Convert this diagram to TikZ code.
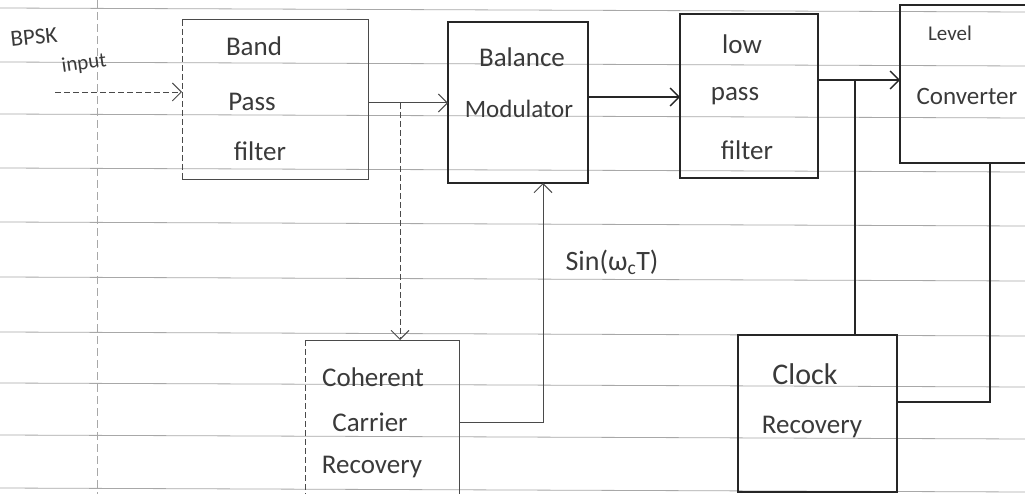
\documentclass[tikz,border=0pt]{standalone}
\usepackage{fontspec}
\setmainfont{Carlito}
\usetikzlibrary{arrows.meta}
\definecolor{ink}{HTML}{262626}
\definecolor{softink}{HTML}{4A4A4A}
\definecolor{ruling}{HTML}{A8A8A8}
\definecolor{txtcol}{HTML}{3A3A3A}
\begin{document}
\begin{tikzpicture}[x=1pt,y=-1pt,
  blk/.style={anchor=north west, inner sep=0pt, outer sep=0pt},
  pen/.style={draw=ink, line width=1.4pt},
  lightpen/.style={draw=softink, line width=1pt},
  faint/.style={draw=softink, line width=0.9pt, dash pattern=on 6pt off 3pt},
  arr/.style={-{Straight Barb[length=9pt,width=18pt]}},
  txt/.style={text=txtcol, font=\fontsize{27}{30}\selectfont, inner sep=1pt},
  rulingline/.style={draw=ruling, line width=0.8pt}]
\useasboundingbox (0,0) rectangle (1025,494);
\clip (0,0) rectangle (1025,494);
% notebook ruling
\foreach \yy in {8,62,114,168,222,277,332,383,435,488}
  \draw[rulingline] (0,\yy) -- (1025,\yy+4);
\draw[rulingline, dash pattern=on 8pt off 4pt] (97,0) -- (97,494);

% boxes
\node[blk, minimum width=186pt, minimum height=160pt] (bpf) at (182,20) {};
\node[blk, minimum width=140pt, minimum height=161pt] (mod) at (448,22) {};
\node[blk, minimum width=138pt, minimum height=164pt] (lpf) at (680,14) {};
\node[blk, minimum width=140pt, minimum height=158pt] (lvl) at (900,5) {};
\node[blk, minimum width=154pt, minimum height=170pt] (ccr) at (305,340) {};
\node[blk, minimum width=159pt, minimum height=157pt] (clk) at (738,335) {};

\draw[faint] (bpf.north west) -- (bpf.south west);
\draw[lightpen] (bpf.north west) -- (bpf.north east) -- (bpf.south east) -- (bpf.south west);
\draw[pen] (mod.north west) rectangle (mod.south east);
\draw[pen] (lpf.north west) rectangle (lpf.south east);
\draw[pen] (lpf.north east) -- ++(0,10);
\draw[pen] (lvl.north east) -- (lvl.north west) -- (lvl.south west) -- (lvl.south east);
\draw[faint] (ccr.north west) -- (ccr.south west);
\draw[lightpen] (ccr.north west) -- (ccr.north east);
\draw[lightpen] (ccr.north east) -- (ccr.south east);
\draw[pen] (clk.north west) rectangle (clk.south east);

% texts
\node[txt, rotate=6, font=\fontsize{23}{26}\selectfont] (tbpsk) at (34,37) {BPSK};
\node[txt, rotate=8, font=\fontsize{21}{26}\selectfont] (tinput) at (84,64) {input};
\node[txt] (tband) at (254,46) {Band};
\node[txt] (tpass) at (252,102) {Pass};
\node[txt] (tfilt) at (260,151) {filter};
\node[txt] (tbal) at (522,57) {Balance};
\node[txt, font=\fontsize{25}{26}\selectfont] (tmodl) at (519,109) {Modulator};
\node[txt] (tlow) at (742,44) {low};
\node[txt] (tlpass) at (735,96) {pass};
\node[txt] (tlfilt) at (747,150) {filter};
\node[txt, font=\fontsize{21}{26}\selectfont] (tlev) at (950,33) {Level};
\node[txt, font=\fontsize{25}{26}\selectfont] (tconv) at (967,96) {Converter};
\node[txt] (tcoh) at (373,377) {Coherent};
\node[txt] (tcar) at (370,422) {Carrier};
\node[txt] (trec) at (372,467) {Recovery};
\node[txt, font=\fontsize{30}{30}\selectfont] (tclock) at (805,374) {Clock};
\node[txt] (tcrec) at (812,427) {Recovery};
\node[txt, font=\fontsize{28}{30}\selectfont] (tsin) at (612,262) {Sin(ω\textsubscript{c}T)};

% connectors
\coordinate (inp) at (55,92);
\draw[faint, arr] (inp) -- (bpf.west |- inp);

\coordinate (j1) at (400,103);
\draw[lightpen, arr] (bpf.east |- j1) -- (mod.west |- j1);
\draw[faint, arr] (j1) -- (j1 |- ccr.north);

\coordinate (m1) at (620,97);
\draw[pen, arr] (mod.east |- m1) -- (lpf.west |- m1);

\coordinate (j2) at (855,80);
\draw[pen, arr] (lpf.east |- j2) -- (lvl.west |- j2);
\draw[pen] (j2) -- (j2 |- clk.north);

\coordinate (j3) at (990,402);
\draw[pen] (lvl.south -| j3) -- (j3) -- (clk.east |- j3);

\coordinate (j4) at (543,422);
\draw[lightpen, arr] (ccr.east |- j4) -- (j4) -- (mod.south -| j4);
\end{tikzpicture}
\end{document}
